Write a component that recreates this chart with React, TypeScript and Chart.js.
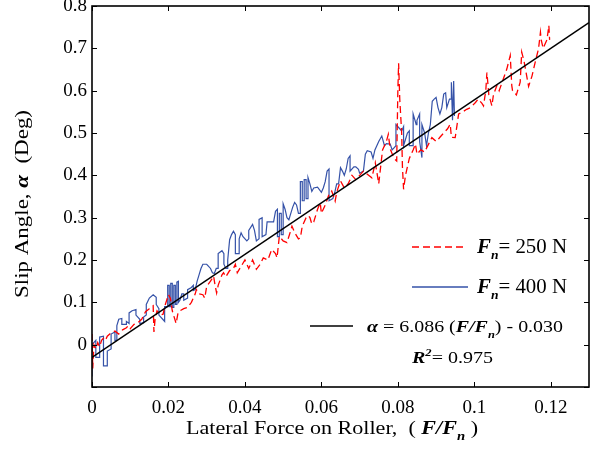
import React, { useEffect, useRef } from 'react';
import { Chart, registerables } from 'chart.js';

Chart.register(...registerables);

const SERIF = '"Liberation Serif", "Times New Roman", Times, serif';
Chart.defaults.font.family = SERIF;

// F_n = 400 N (blue, solid)
const blueX = [
  0.000, 0.000, 0.001, 0.001, 0.002, 0.002, 0.003, 0.003, 0.004, 0.004,
  0.005, 0.005, 0.006, 0.006, 0.0065, 0.0065, 0.007, 0.0078, 0.0078, 0.009,
  0.009, 0.0097, 0.0097, 0.0105, 0.0115, 0.0115, 0.0125, 0.0125, 0.0135, 0.0135,
  0.0142, 0.0142, 0.015, 0.016, 0.0168, 0.0168, 0.0175, 0.0175, 0.0185, 0.019,
  0.019, 0.0198, 0.0198, 0.0202, 0.0202, 0.0206, 0.0206, 0.021, 0.021, 0.0214,
  0.0214, 0.0218, 0.0218, 0.0222, 0.0222, 0.0226, 0.0226, 0.023, 0.0235, 0.024,
  0.024, 0.025, 0.025, 0.026, 0.0265, 0.0265, 0.027, 0.0275, 0.028, 0.0285,
  0.029, 0.030, 0.0305, 0.031, 0.0315, 0.032, 0.0325, 0.033, 0.033, 0.034,
  0.0345, 0.0345, 0.035, 0.0355, 0.0355, 0.036, 0.0365, 0.037, 0.0375, 0.0375,
  0.0385, 0.0385, 0.039, 0.0395, 0.0405, 0.041, 0.041, 0.042, 0.0425, 0.043,
  0.0437, 0.0437, 0.0445, 0.0445, 0.0455, 0.0458, 0.047, 0.0475, 0.048, 0.0485,
  0.0485, 0.049, 0.049, 0.0495, 0.0495, 0.050, 0.050, 0.0505, 0.051, 0.0515,
  0.052, 0.0525, 0.053, 0.0535, 0.054, 0.0545, 0.0545, 0.055, 0.055, 0.0555,
  0.0555, 0.056, 0.056, 0.0565, 0.0565, 0.057, 0.0575, 0.058, 0.059, 0.060,
  0.0605, 0.061, 0.0615, 0.062, 0.062, 0.063, 0.0635, 0.064, 0.0645, 0.065,
  0.0655, 0.066, 0.0665, 0.067, 0.0675, 0.0675, 0.0685, 0.069, 0.0697, 0.070,
  0.071, 0.0715, 0.072, 0.073, 0.0735, 0.074, 0.075, 0.0758, 0.0765, 0.077,
  0.078, 0.0785, 0.079, 0.0795, 0.0795, 0.0805, 0.081, 0.0815, 0.0815, 0.0825,
  0.083, 0.083, 0.084, 0.084, 0.0848, 0.085, 0.0857, 0.0857, 0.0863, 0.0863,
  0.087, 0.0875, 0.088, 0.0885, 0.089, 0.0895, 0.090, 0.0905, 0.091, 0.0915,
  0.092, 0.0925, 0.0928, 0.0935, 0.094, 0.094, 0.0943, 0.0946, 0.0948,
];
const blueY = [
  -0.075, 0.0, 0.01, -0.03, -0.03, 0.018, 0.02, -0.05, -0.05, -0.015,
  -0.01, 0.025, 0.03, 0.01, 0.01, 0.045, 0.06, 0.062, 0.048, 0.048,
  0.055, 0.05, 0.075, 0.08, 0.083, 0.07, 0.06, 0.05, 0.052, 0.065,
  0.07, 0.095, 0.11, 0.118, 0.112, 0.095, 0.085, 0.07, 0.06, 0.055,
  0.09, 0.09, 0.14, 0.14, 0.09, 0.09, 0.145, 0.145, 0.088, 0.088,
  0.14, 0.14, 0.095, 0.095, 0.148, 0.15, 0.1, 0.105, 0.12, 0.12,
  0.105, 0.11, 0.13, 0.135, 0.14, 0.128, 0.13, 0.15, 0.165, 0.18,
  0.19, 0.19, 0.185, 0.18, 0.17, 0.168, 0.18, 0.18, 0.215, 0.222,
  0.215, 0.19, 0.18, 0.18, 0.2, 0.248, 0.26, 0.268, 0.26, 0.215,
  0.215, 0.25, 0.264, 0.255, 0.245, 0.25, 0.27, 0.284, 0.27, 0.245,
  0.25, 0.296, 0.3, 0.255, 0.26, 0.29, 0.29, 0.29, 0.315, 0.32,
  0.255, 0.255, 0.31, 0.31, 0.26, 0.26, 0.333, 0.32, 0.3, 0.295,
  0.31, 0.325, 0.336, 0.33, 0.31, 0.31, 0.385, 0.385, 0.34, 0.34,
  0.39, 0.39, 0.345, 0.345, 0.395, 0.38, 0.362, 0.37, 0.372, 0.36,
  0.37, 0.385, 0.41, 0.415, 0.34, 0.345, 0.36, 0.38, 0.38, 0.418,
  0.41, 0.4, 0.415, 0.44, 0.446, 0.41, 0.42, 0.42, 0.414, 0.405,
  0.41, 0.45, 0.458, 0.455, 0.44, 0.46, 0.48, 0.493, 0.47, 0.475,
  0.474, 0.46, 0.465, 0.47, 0.52, 0.51, 0.505, 0.515, 0.47, 0.5,
  0.505, 0.47, 0.47, 0.545, 0.52, 0.53, 0.545, 0.48, 0.442, 0.52,
  0.5, 0.47, 0.5, 0.52, 0.575, 0.58, 0.584, 0.56, 0.545, 0.56,
  0.592, 0.595, 0.56, 0.58, 0.58, 0.62, 0.53, 0.623, 0.54,
];

// F_n = 250 N (red, dashed)
const redX = [
  0.000, 0.0002, 0.0005, 0.001, 0.0015, 0.002, 0.0025, 0.003, 0.0035, 0.004,
  0.005, 0.006, 0.007, 0.008, 0.009, 0.0095, 0.010, 0.011, 0.012, 0.013,
  0.014, 0.015, 0.016, 0.0162, 0.0165, 0.017, 0.018, 0.0186, 0.019, 0.020,
  0.0205, 0.021, 0.022, 0.0225, 0.023, 0.024, 0.025, 0.026, 0.027, 0.0273,
  0.028, 0.029, 0.0295, 0.030, 0.031, 0.0318, 0.0322, 0.0326, 0.033, 0.034,
  0.0344, 0.035, 0.036, 0.037, 0.0375, 0.038, 0.039, 0.040, 0.041, 0.0415,
  0.042, 0.043, 0.044, 0.0448, 0.046, 0.047, 0.048, 0.0484, 0.049, 0.050,
  0.051, 0.052, 0.0523, 0.053, 0.054, 0.0545, 0.055, 0.056, 0.0566, 0.057,
  0.0575, 0.058, 0.059, 0.0597, 0.060, 0.061, 0.062, 0.0627, 0.0636, 0.064,
  0.065, 0.066, 0.067, 0.068, 0.069, 0.070, 0.071, 0.0732, 0.0741, 0.075,
  0.0755, 0.076, 0.077, 0.0775, 0.078, 0.079, 0.0797, 0.080, 0.0802, 0.0805,
  0.081, 0.0812, 0.0815, 0.082, 0.083, 0.084, 0.0846, 0.085, 0.086, 0.087,
  0.0876, 0.0889, 0.090, 0.0902, 0.091, 0.092, 0.093, 0.0937, 0.094, 0.095,
  0.0955, 0.0959, 0.097, 0.098, 0.099, 0.1003, 0.101, 0.102, 0.1024, 0.103,
  0.1033, 0.1038, 0.1046, 0.105, 0.1059, 0.1065, 0.1076, 0.1085, 0.1094, 0.1098,
  0.110, 0.111, 0.112, 0.1124, 0.113, 0.114, 0.1142, 0.1151, 0.116, 0.1168,
  0.1173, 0.1175, 0.118, 0.119, 0.1195, 0.1197,
];
const redY = [
  0.025, -0.056, 0.0, -0.01, 0.005, -0.005, 0.01, 0.015, 0.01, 0.02,
  0.028, 0.032, 0.025, 0.035, 0.04, 0.045, 0.038, 0.048, 0.052, 0.06,
  0.078, 0.085, 0.092, 0.03, 0.06, 0.08, 0.07, 0.072, 0.09, 0.118,
  0.11, 0.08, 0.05, 0.075, 0.08, 0.085, 0.088, 0.1, 0.12, 0.13,
  0.12, 0.118, 0.11, 0.138, 0.15, 0.162, 0.14, 0.122, 0.14, 0.165,
  0.17, 0.16, 0.175, 0.18, 0.19, 0.17, 0.185, 0.2, 0.18, 0.19,
  0.2, 0.178, 0.19, 0.205, 0.2, 0.225, 0.215, 0.205, 0.256, 0.245,
  0.241, 0.27, 0.28, 0.265, 0.25, 0.252, 0.28, 0.3, 0.305, 0.3,
  0.285, 0.29, 0.32, 0.335, 0.31, 0.33, 0.355, 0.363, 0.339, 0.36,
  0.387, 0.37, 0.38, 0.4, 0.39, 0.4, 0.41, 0.394, 0.43, 0.38,
  0.42, 0.46, 0.48, 0.497, 0.462, 0.44, 0.434, 0.6, 0.665, 0.58,
  0.5, 0.42, 0.367, 0.4, 0.44, 0.46, 0.474, 0.45, 0.46, 0.455,
  0.466, 0.489, 0.48, 0.481, 0.49, 0.5, 0.51, 0.521, 0.49, 0.489,
  0.52, 0.545, 0.55, 0.556, 0.56, 0.572, 0.58, 0.57, 0.564, 0.6,
  0.643, 0.59, 0.564, 0.59, 0.612, 0.6, 0.628, 0.651, 0.683, 0.612,
  0.6, 0.59, 0.62, 0.691, 0.67, 0.62, 0.61, 0.635, 0.67, 0.699,
  0.738, 0.72, 0.7, 0.72, 0.754, 0.72,
];

// Linear fit: alpha = 6.086 (F/Fn) - 0.030
const fitX = [0, 0.13];
const fitY = [-0.030, 0.761];

const xTickValues = [0, 0.02, 0.04, 0.06, 0.08, 0.1, 0.12];
const yTickValues = [-0.1, 0, 0.1, 0.2, 0.3, 0.4, 0.5, 0.6, 0.7, 0.8];

const RED = '#ff0000';
const BLUE = '#3552a8';

type Run = { t: string; b?: boolean; i?: boolean; sub?: boolean; sup?: boolean };

function setFont(ctx: CanvasRenderingContext2D, r: Run, size: number) {
  const s = r.sub || r.sup ? Math.round(size * 0.65) : size;
  ctx.font = `${r.i ? 'italic ' : ''}${r.b ? 'bold ' : ''}${s}px ${SERIF}`;
}

function measureRuns(ctx: CanvasRenderingContext2D, runs: Run[], size: number) {
  let w = 0;
  for (const r of runs) {
    setFont(ctx, r, size);
    w += ctx.measureText(r.t).width;
  }
  return w;
}

// draws text runs starting at (x, y), stretched horizontally to span `width`
function drawRuns(ctx: CanvasRenderingContext2D, x: number, y: number, runs: Run[], size: number, width?: number) {
  const natural = measureRuns(ctx, runs, size);
  const k = width ? width / natural : 1;
  ctx.save();
  ctx.translate(x, y);
  ctx.scale(k, 1);
  ctx.textBaseline = 'alphabetic';
  ctx.textAlign = 'left';
  ctx.fillStyle = '#000';
  let cx = 0;
  for (const r of runs) {
    setFont(ctx, r, size);
    const dy = r.sub ? size * 0.32 : r.sup ? -size * 0.38 : 0;
    ctx.fillText(r.t, cx, dy);
    cx += ctx.measureText(r.t).width;
  }
  ctx.restore();
}

function seg(ctx: CanvasRenderingContext2D, x1: number, y1: number, x2: number, y2: number) {
  ctx.beginPath();
  ctx.moveTo(x1, y1);
  ctx.lineTo(x2, y2);
  ctx.stroke();
}

const decorPlugin = {
  id: 'decor',
  afterDatasetsDraw(chart: any) {
    const { ctx, chartArea: a, scales } = chart;
    const xs = scales.x;
    const ys = scales.y;
    ctx.save();
    // frame
    ctx.strokeStyle = '#000';
    ctx.lineWidth = 1.6;
    ctx.setLineDash([]);
    ctx.strokeRect(a.left, a.top, a.right - a.left, a.bottom - a.top);
    // inward ticks on all sides
    ctx.lineWidth = 1;
    for (const t of xs.ticks) {
      const px = Math.round(xs.getPixelForValue(t.value)) + 0.5;
      seg(ctx, px, a.bottom, px, a.bottom - 5);
      seg(ctx, px, a.top, px, a.top + 5);
    }
    for (const t of ys.ticks) {
      const py = Math.round(ys.getPixelForValue(t.value)) + 0.5;
      seg(ctx, a.left, py, a.left + 5, py);
      seg(ctx, a.right, py, a.right - 5, py);
    }

    // x title
    drawRuns(ctx, 186, 434, [
      { t: 'Lateral Force on Roller,  ( ' },
      { t: 'F/F', b: true, i: true },
      { t: 'n', b: true, i: true, sub: true },
      { t: ' )' },
    ], 19.5, 292);

    // y title
    ctx.save();
    ctx.translate(28, 298);
    ctx.rotate(-Math.PI / 2);
    drawRuns(ctx, 0, 0, [
      { t: 'Slip Angle, ' },
      { t: '\u03b1', b: true, i: true },
      { t: '  (Deg)' },
    ], 19.5, 188);
    ctx.restore();

    // legend
    ctx.lineWidth = 1.3;
    ctx.strokeStyle = RED;
    ctx.setLineDash([7, 4]);
    seg(ctx, 412, 247, 464, 247);
    ctx.setLineDash([]);
    ctx.strokeStyle = BLUE;
    seg(ctx, 412, 287, 468, 287);
    ctx.strokeStyle = '#000';
    seg(ctx, 310, 326, 353, 326);

    drawRuns(ctx, 477, 253, [
      { t: 'F', b: true, i: true },
      { t: 'n', b: true, i: true, sub: true },
      { t: '= 250 N' },
    ], 20, 90);
    drawRuns(ctx, 477, 293, [
      { t: 'F', b: true, i: true },
      { t: 'n', b: true, i: true, sub: true },
      { t: '= 400 N' },
    ], 20, 90);
    drawRuns(ctx, 367, 332, [
      { t: '\u03b1', b: true, i: true },
      { t: ' = 6.086 (' },
      { t: 'F/F', b: true, i: true },
      { t: 'n', b: true, i: true, sub: true },
      { t: ') - 0.030' },
    ], 17.5, 196);
    drawRuns(ctx, 412, 363, [
      { t: 'R', b: true, i: true },
      { t: '2', b: true, i: true, sup: true },
      { t: '= 0.975' },
    ], 17.5, 81);
    ctx.restore();
  },
};

function fmt(v: number) {
  return String(parseFloat(v.toFixed(2)));
}

export default function App() {
  const ref = useRef<HTMLCanvasElement | null>(null);

  useEffect(() => {
    if (!ref.current) return;
    const toPts = (xs: number[], ys: number[]) => xs.map((x, i) => ({ x, y: ys[i] }));
    const chart = new Chart(ref.current, {
      type: 'scatter',
      data: {
        datasets: [
          {
            label: 'fit',
            data: toPts(fitX, fitY),
            showLine: true,
            borderColor: '#000',
            borderWidth: 1.5,
            pointRadius: 0,
            order: 0,
          },
          {
            label: 'Fn = 250 N',
            data: toPts(redX, redY),
            showLine: true,
            borderColor: RED,
            borderWidth: 1.3,
            borderDash: [7, 4],
            pointRadius: 0,
            order: 1,
          },
          {
            label: 'Fn = 400 N',
            data: toPts(blueX, blueY),
            showLine: true,
            borderColor: BLUE,
            borderWidth: 1.2,
            pointRadius: 0,
            order: 2,
          },
        ],
      },
      options: {
        animation: false,
        responsive: false,
        devicePixelRatio: 1,
        layout: { padding: { top: 6, right: 9, left: 0, bottom: 0 } },
        plugins: { legend: { display: false }, tooltip: { enabled: false } },
        scales: {
          x: {
            type: 'linear',
            min: 0,
            max: 0.13,
            grid: { display: false, drawTicks: false },
            border: { display: false },
            afterBuildTicks: (s: any) => {
              s.ticks = xTickValues.map((v) => ({ value: v }));
            },
            afterFit: (s: any) => {
              s.height = 70;
              s.paddingLeft = 0;
              s.paddingRight = 0;
            },
            ticks: {
              color: '#000',
              padding: 10,
              maxRotation: 0,
              font: { family: SERIF, size: 19 },
              callback: (v: any) => fmt(Number(v)),
            },
          },
          y: {
            type: 'linear',
            min: -0.1,
            max: 0.8,
            grid: { display: false, drawTicks: false },
            border: { display: false },
            afterBuildTicks: (s: any) => {
              s.ticks = yTickValues.map((v) => ({ value: v }));
            },
            afterFit: (s: any) => {
              s.width = 92;
              s.paddingTop = 0;
              s.paddingBottom = 0;
            },
            ticks: {
              color: '#000',
              padding: 5,
              font: { family: SERIF, size: 19 },
              callback: (v: any) => (Math.abs(Number(v) + 0.1) < 1e-9 ? '' : fmt(Number(v))),
            },
          },
        },
      },
      plugins: [decorPlugin],
    });
    return () => chart.destroy();
  }, []);

  return (
    <div style={{ position: 'absolute', left: 0, top: 0, width: 598, height: 457, background: '#fff' }}>
      <canvas ref={ref} width={598} height={457} />
    </div>
  );
}
